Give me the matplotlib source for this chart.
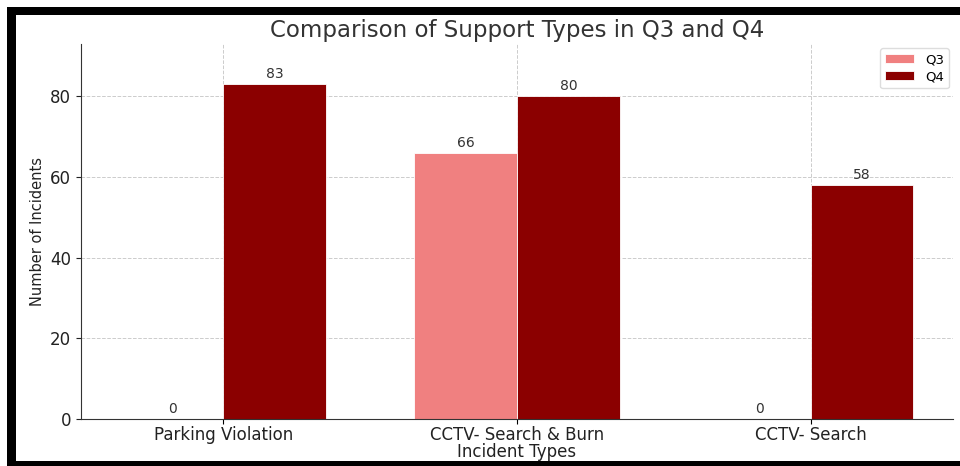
import numpy as np
import matplotlib.pyplot as plt
from matplotlib.patches import Rectangle

categories = ['Parking Violation', 'CCTV- Search & Burn', 'CCTV- Search']
q3 = [0, 66, 0]
q4 = [83, 80, 58]

x = np.arange(len(categories))
width = 0.35

fig = plt.figure(figsize=(9.6, 4.66), dpi=100)
ax = fig.add_axes([0.0844, 0.1009, 0.9083, 0.8047])

b3 = ax.bar(x - width/2, q3, width, label='Q3', color='lightcoral', edgecolor='white', linewidth=0.6)
b4 = ax.bar(x + width/2, q4, width, label='Q4', color='darkred', edgecolor='white', linewidth=0.6)

for bars in (b3, b4):
    for b in bars:
        h = b.get_height()
        ax.annotate(f'{h}', (b.get_x() + b.get_width()/2, h), xytext=(0, 2),
                    textcoords='offset points', ha='center', va='bottom',
                    fontsize=10, color='#333333')

ax.set_ylim(0, max(q4) * 1.12)
ax.set_xticks(x)
ax.set_xticklabels(categories, fontsize=12, color='#222222')
ax.tick_params(axis='x', pad=1.5)
ax.tick_params(axis='y', labelsize=12, colors='#222222')
ax.set_xlabel('Incident Types', fontsize=12, color='#222222', labelpad=-1)
ax.set_ylabel('Number of Incidents', fontsize=10.5, color='#222222')
ax.set_title('Comparison of Support Types in Q3 and Q4', fontsize=16.5, color='#333333', pad=5)

ax.set_axisbelow(True)
ax.grid(True, linestyle='--', color='#cccccc', linewidth=0.7)
ax.spines['top'].set_visible(False)
ax.spines['right'].set_visible(False)
ax.spines['left'].set_color('#333333')
ax.spines['bottom'].set_color('#333333')

ax.legend(loc='upper right', fontsize=9.5, framealpha=1, edgecolor='#dddddd',
          borderaxespad=0.3, handlelength=2.2, labelspacing=0.3)

# black frame on left, top and bottom
for r in [(7/960, 0, 9/960, 459/466), (7/960, 451/466, 953/960, 8/466), (7/960, 0, 953/960, 5/466)]:
    fig.patches.append(Rectangle(r[:2], r[2], r[3], transform=fig.transFigure,
                                 facecolor='black', edgecolor='none', zorder=10))

fig.savefig('out.png', dpi=100)
